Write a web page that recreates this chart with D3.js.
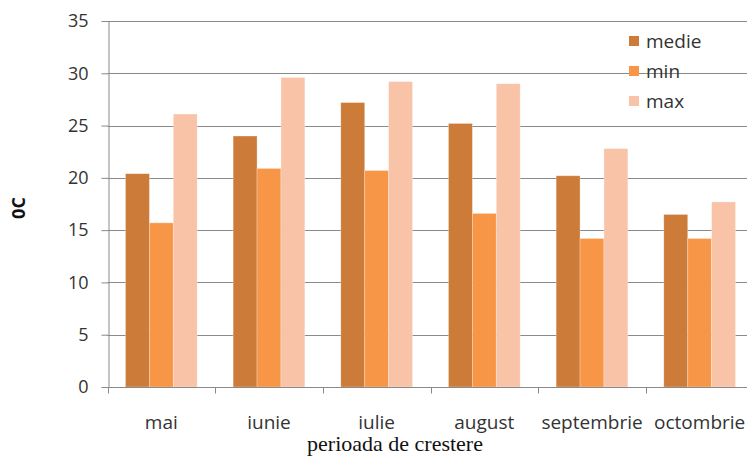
<!DOCTYPE html>
<html>
<head>
<meta charset="utf-8">
<script src="https://cdn.jsdelivr.net/npm/d3@7"></script>
<style>
  html, body { margin: 0; padding: 0; background: #fff; }
  svg { display: block; }
</style>
</head>
<body>
<svg id="chart" width="747" height="456"></svg>
<script>
// Temperaturi lunare (°C) pe perioada de creștere
const categories = ["mai", "iunie", "iulie", "august", "septembrie", "octombrie"];
const seriesNames = ["medie", "min", "max"];
const medie = [20.4, 24.0, 27.2, 25.2, 20.2, 16.5];
const minim = [15.7, 20.9, 20.7, 16.6, 14.2, 14.2];
const maxim = [26.1, 29.6, 29.2, 29.0, 22.8, 17.7];
const yTicks = [0, 5, 10, 15, 20, 25, 30, 35];
const colors = ["#cc7b39", "#f79646", "#f9c3a8"];

const seriesValues = [medie, minim, maxim];
const rows = categories.map((c, i) => ({
  cat: c,
  vals: seriesNames.map((s, k) => ({ key: s, value: seriesValues[k][i], color: colors[k] }))
}));

const svg = d3.select("#chart");
const plotLeft = 107.5, plotRight = 753.5, plotTop = 21, plotBottom = 387;

const x0 = d3.scaleBand().domain(categories).range([plotLeft, plotRight]).padding(0);
const bw = x0.bandwidth();
const x1 = d3.scaleBand().domain(seriesNames).range([bw * 0.167, bw * 0.833]).padding(0);
const y = d3.scaleLinear().domain([0, 35]).range([plotBottom, plotTop]);

// horizontal gridlines
svg.append("g")
  .selectAll("line")
  .data(yTicks.filter(t => t > 0))
  .join("line")
  .attr("x1", plotLeft).attr("x2", 747)
  .attr("y1", d => Math.round(y(d)) + 0.5).attr("y2", d => Math.round(y(d)) + 0.5)
  .attr("stroke", "#8a8a8a").attr("stroke-width", 1);

// bars
const groups = svg.append("g")
  .selectAll("g")
  .data(rows)
  .join("g")
  .attr("transform", d => `translate(${x0(d.cat)},0)`);

groups.selectAll("rect")
  .data(d => d.vals)
  .join("rect")
  .attr("x", d => x1(d.key))
  .attr("width", x1.bandwidth())
  .attr("y", d => y(d.value))
  .attr("height", d => y(0) - y(d.value))
  .attr("fill", d => d.color)
  .attr("stroke", "rgba(255,255,255,0.35)")
  .attr("stroke-width", 0.8);

// y axis
const yAxis = d3.axisLeft(y).tickValues(yTicks).tickSize(7).tickPadding(13).tickSizeOuter(0);
const gy = svg.append("g").attr("transform", `translate(${Math.round(plotLeft) + 0.5},0)`).call(yAxis);
gy.select(".domain").attr("stroke", "#8a8a8a");
gy.selectAll(".tick line").attr("stroke", "#8a8a8a");
gy.selectAll(".tick text")
  .attr("font-family", "'Open Sans', sans-serif")
  .attr("font-size", 18)
  .attr("fill", "#333");

// x axis with ticks at category boundaries
const gx = svg.append("g").attr("transform", `translate(0,${Math.round(plotBottom) + 0.5})`);
gx.append("line")
  .attr("x1", plotLeft).attr("x2", 747)
  .attr("stroke", "#8a8a8a");
gx.selectAll("line.tk")
  .data(categories)
  .join("line")
  .attr("class", "tk")
  .attr("x1", d => Math.round(x0(d)) + 0.5).attr("x2", d => Math.round(x0(d)) + 0.5)
  .attr("y1", 0).attr("y2", 6)
  .attr("stroke", "#8a8a8a");
gx.selectAll("text")
  .data(categories)
  .join("text")
  .attr("x", d => x0(d) + bw / 2)
  .attr("y", 41.5)
  .attr("text-anchor", "middle")
  .attr("font-family", "'Open Sans', sans-serif")
  .attr("font-size", 19)
  .attr("fill", "#333")
  .text(d => d);

// axis titles
svg.append("text")
  .attr("x", 395).attr("y", 450.5)
  .attr("text-anchor", "middle")
  .attr("font-family", "'Liberation Serif', serif")
  .attr("font-size", 22)
  .attr("fill", "#111")
  .text("perioada de crestere");

svg.append("text")
  .attr("transform", "translate(25,208) rotate(-90)")
  .attr("text-anchor", "middle")
  .attr("font-family", "'Open Sans', sans-serif")
  .attr("font-weight", "bold")
  .attr("font-size", 18)
  .attr("fill", "#111")
  .text("0C");

// legend
const legend = svg.append("g")
  .selectAll("g")
  .data(seriesNames)
  .join("g")
  .attr("transform", (d, i) => `translate(629,${41 + i * 30})`);
legend.append("rect")
  .attr("x", 0).attr("y", -5).attr("width", 10).attr("height", 10)
  .attr("fill", (d, i) => colors[i]);
legend.append("text")
  .attr("x", 17).attr("y", 0)
  .attr("dy", "0.35em")
  .attr("font-family", "'Open Sans', sans-serif")
  .attr("font-size", 19)
  .attr("fill", "#333")
  .text(d => d);
</script>
</body>
</html>
